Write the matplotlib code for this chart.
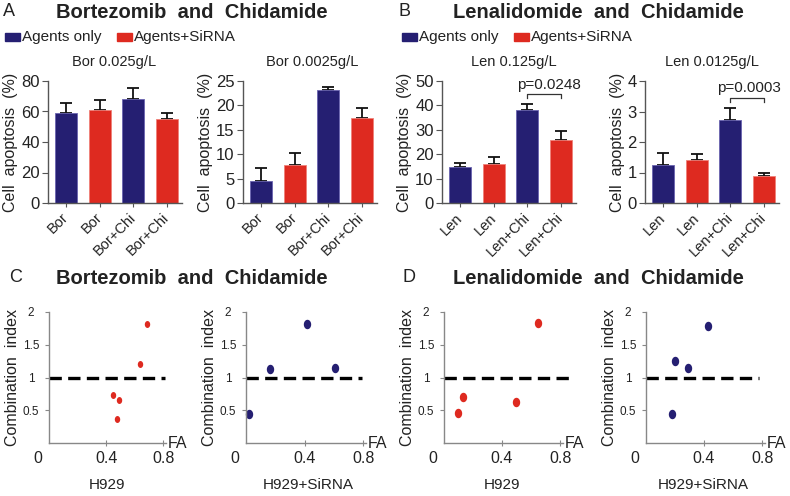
import matplotlib
matplotlib.use("Agg")
import matplotlib.pyplot as plt
import matplotlib.transforms as mtransforms
import numpy as np

plt.rcParams['font.family'] = ['Liberation Sans', 'DejaVu Sans']

# ---- data ----
navy = '#251f72'
red = '#de2a20'
bar_colors = [navy, red, navy, red]

bor_labels = ['Bor', 'Bor', 'Bor+Chi', 'Bor+Chi']
len_labels = ['Len', 'Len', 'Len+Chi', 'Len+Chi']

bor_high = [58.7, 61.1, 67.9, 55.2]
bor_high_err = [7.0, 6.2, 7.3, 4.0]
bor_low = [4.6, 7.8, 23.1, 17.4]
bor_low_err = [2.5, 2.4, 0.6, 2.1]
len_high = [14.7, 15.9, 38.1, 25.9]
len_high_err = [1.5, 3.0, 2.5, 3.7]
len_low = [1.24, 1.41, 2.71, 0.88]
len_low_err = [0.40, 0.21, 0.39, 0.12]

c_h929_fa = [0.45, 0.49, 0.478, 0.637, 0.686]
c_h929_ci = [0.73, 0.65, 0.36, 1.20, 1.81]
c_sirna_fa = [0.02, 0.164, 0.417, 0.609]
c_sirna_ci = [0.44, 1.13, 1.81, 1.15]
d_h929_fa = [0.094, 0.128, 0.498, 0.649]
d_h929_ci = [0.46, 0.70, 0.62, 1.83]
d_sirna_fa = [0.182, 0.197, 0.29, 0.425]
d_sirna_ci = [0.445, 1.25, 1.14, 1.79]

W, H = 790, 496
fig = plt.figure(figsize=(W / 100, H / 100), dpi=100)


def px_axes(l, t, r, b):
    return fig.add_axes([l / W, 1 - b / H, (r - l) / W, (b - t) / H])


def ftext(x, y, s, **kw):
    fig.text(x / W, 1 - y / H, s, **kw)


txt = '#222222'
axc = '#555555'


def bar_panel(l, labels, vals, errs, ymax, step, subtitle, sub_x):
    ax = px_axes(l, 81, l + 134, 203)
    x = np.arange(len(vals))
    ax.bar(x, vals, width=0.66, color=bar_colors, edgecolor=['#6a64b0', '#f08078', '#6a64b0', '#f08078'],
           linewidth=0.6, zorder=2)
    ax.errorbar(x, vals, yerr=[np.zeros(len(errs)), errs], fmt='none', ecolor='#111111',
                elinewidth=1.3, capsize=4.5, capthick=1.3, zorder=1)
    ax.set_xlim(-0.55, 3.45)
    ax.set_ylim(0, ymax)
    ax.set_yticks(np.arange(0, ymax + step / 2, step))
    ax.set_xticks(x)
    ax.set_xticklabels(labels, rotation=45, ha='right', va='center', rotation_mode='anchor',
                       fontsize=10.5, color=txt)
    for s in ['top', 'right']:
        ax.spines[s].set_visible(False)
    for s in ['left', 'bottom']:
        ax.spines[s].set_color(axc)
        ax.spines[s].set_linewidth(1.0)
    ax.tick_params(axis='y', length=4, color=axc, labelsize=12, labelcolor=txt, pad=2)
    ax.tick_params(axis='x', length=3, color=axc, pad=6)
    ax.set_ylabel('Cell  apoptosis  (%)', fontsize=11.5, color=txt, labelpad=2)
    ftext(sub_x, 62, subtitle, ha='center', va='center', fontsize=10.5, color=txt)
    return ax


def pbracket(ax, y, tick, ty, label, tx):
    ax.plot([2, 2, 3, 3], [y - tick, y, y, y - tick], color='#333333', lw=0.9, clip_on=False)
    ax.text(tx, ty, label, ha='center', va='center', fontsize=11, color=txt, clip_on=False)


# ---- top row ----
ftext(3, 12, 'A', fontsize=13, va='center', color=txt)
ftext(192, 12, 'Bortezomib  and  Chidamide', fontsize=14.5, fontweight='bold', ha='center',
      va='center', color=txt)
ftext(398, 12, 'B', fontsize=13, va='center', color=txt)
ftext(598, 12, 'Lenalidomide  and  Chidamide', fontsize=14.5, fontweight='bold', ha='center',
      va='center', color=txt)

for x0 in [5, 402]:
    fig.patches.append(plt.Rectangle(((x0) / W, 1 - 41 / H), 15 / W, 8 / H, color=navy,
                                     transform=fig.transFigure, figure=fig))
    ftext(x0 + 17, 37, 'Agents only', fontsize=11, va='center', color=txt)
    fig.patches.append(plt.Rectangle(((x0 + 112) / W, 1 - 41 / H), 15 / W, 8 / H, color=red,
                                     transform=fig.transFigure, figure=fig))
    ftext(x0 + 129, 37, 'Agents+SiRNA', fontsize=11, va='center', color=txt)

bar_panel(48, bor_labels, bor_high, bor_high_err, 80, 20, 'Bor 0.025g/L', 114)
bar_panel(243, bor_labels, bor_low, bor_low_err, 25, 5, 'Bor 0.0025g/L', 312)
axb1 = bar_panel(442, len_labels, len_high, len_high_err, 50, 10, 'Len 0.125g/L', 514)
pbracket(axb1, 44.7, 1.6, 48.5, 'p=0.0248', 2.65)
axb2 = bar_panel(645, len_labels, len_low, len_low_err, 4, 1, 'Len 0.0125g/L', 712)
pbracket(axb2, 3.44, 0.12, 3.78, 'p=0.0003', 2.55)


# ---- bottom row ----
def ellipse_marker():
    t = np.linspace(0, 2 * np.pi, 40)
    return np.column_stack([0.78 * np.cos(t), np.sin(t)])


def ci_panel(l, r, fa, ci, color, ms, dash_end, xlabel, label_x):
    ax = px_axes(l, 312, r, 443)
    ax.set_xlim(0, 0.82)
    ax.set_ylim(0, 2)
    ax.plot([0, dash_end], [1, 1], color='black', lw=2.4, dashes=(3.7, 1.9), clip_on=False, zorder=1)
    ax.plot(fa, ci, linestyle='none', marker=ellipse_marker(), markersize=ms, color=color,
            markeredgewidth=0, zorder=2, clip_on=False)
    for s in ['top', 'right']:
        ax.spines[s].set_visible(False)
    for s in ['left', 'bottom']:
        ax.spines[s].set_color('#888888')
        ax.spines[s].set_linewidth(1.0)
    ax.set_yticks([0.5, 1, 1.5, 2])
    ax.set_yticklabels(['0.5', '1', '1.5', '2'], ha='center')
    ax.tick_params(axis='y', length=3, color='#888888', labelsize=8.5, labelcolor=txt, pad=10)
    ax.set_xticks([0, 0.4, 0.8])
    ax.set_xticklabels(['0', '0.4', '0.8'])
    ax.tick_params(axis='x', direction='inout', length=5, color='#888888', labelsize=11.5,
                   labelcolor=txt, pad=3)
    lab0 = ax.get_xticklabels()[0]
    lab0.set_transform(lab0.get_transform() + mtransforms.ScaledTranslation(-0.11, 0, fig.dpi_scale_trans))
    ax.xaxis.get_major_ticks()[0].tick1line.set_visible(False)
    ax.set_ylabel('Combination  index', fontsize=11.5, color=txt, labelpad=2)
    ax.text(1.015, 0.0, 'FA', transform=ax.transAxes, fontsize=11.5, va='center', ha='left', color=txt)
    ftext(label_x, 485, xlabel, ha='center', va='center', fontsize=11, color=txt)
    return ax


ftext(9, 278, 'C', fontsize=13, va='center', color=txt)
ftext(192, 278, 'Bortezomib  and  Chidamide', fontsize=14.5, fontweight='bold', ha='center',
      va='center', color=txt)
ftext(402, 278, 'D', fontsize=13, va='center', color=txt)
ftext(598, 278, 'Lenalidomide  and  Chidamide', fontsize=14.5, fontweight='bold', ha='center',
      va='center', color=txt)

ci_panel(49, 166, c_h929_fa, c_h929_ci, red, 5.0, 0.816, 'H929', 107)
ci_panel(246, 366, c_sirna_fa, c_sirna_ci, navy, 6.8, 0.79, 'H929+SiRNA', 308)
ci_panel(444, 563, d_h929_fa, d_h929_ci, red, 6.8, 0.87, 'H929', 502)
ci_panel(646, 765, d_sirna_fa, d_sirna_ci, navy, 6.8, 0.78, 'H929+SiRNA', 703)

fig.savefig('out.png', dpi=100)
